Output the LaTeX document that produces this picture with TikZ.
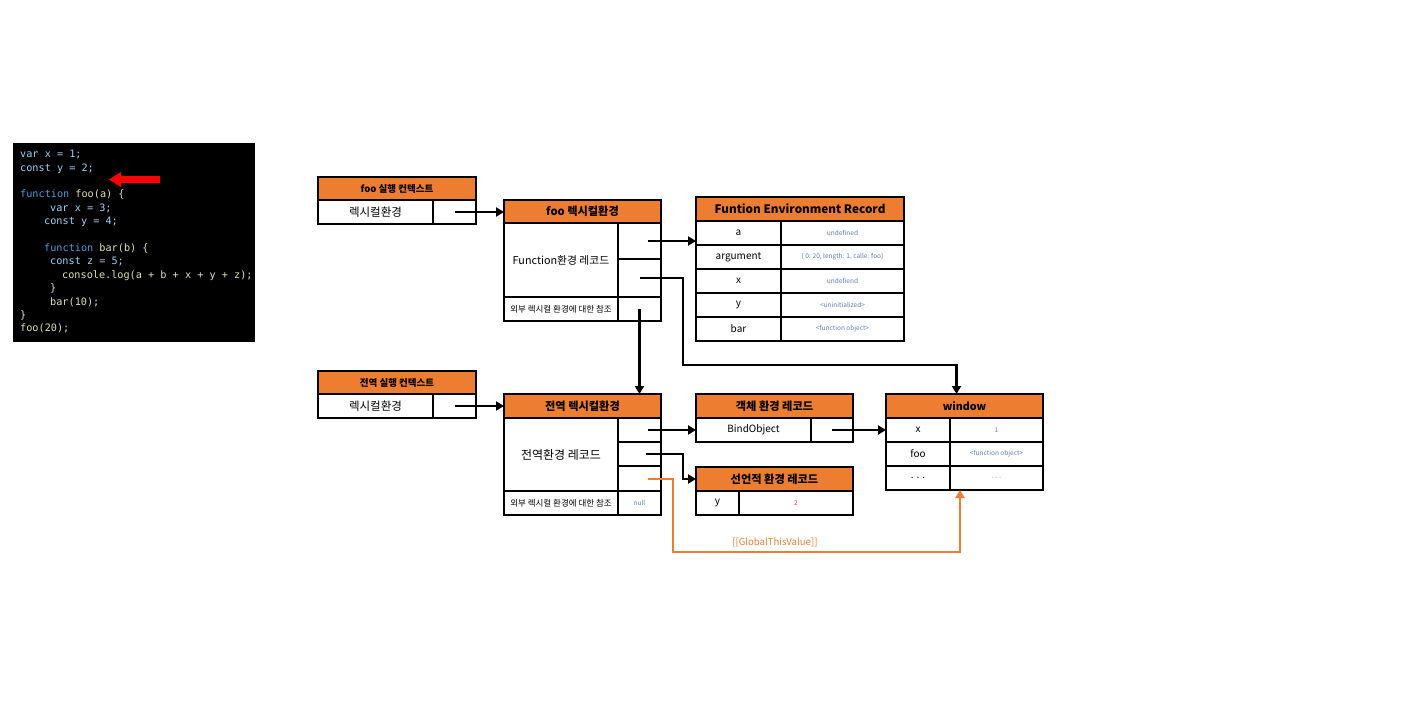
\documentclass[tikz,border=0pt]{standalone}
\usepackage{fontspec}
\setmainfont{Noto Sans CJK KR}
\setmonofont{DejaVu Sans Mono}
\usetikzlibrary{arrows.meta,calc}

\definecolor{hdr}{HTML}{ED7D31}
\definecolor{gtv}{HTML}{ED7D31}
\definecolor{kwblue}{HTML}{4F9BDB}
\definecolor{varblue}{HTML}{9CD2F8}
\definecolor{fnyel}{HTML}{E2E2B4}
\definecolor{valtxt}{HTML}{5A7FAE}
\definecolor{valred}{HTML}{E8404A}

\newcommand\fsz[1]{\fontsize{#1}{#1}\selectfont}

\tikzset{
  wh/.style 2 args={minimum width=#1pt, minimum height=#2pt},
  cell/.style={draw, line width=1.8pt, inner sep=0pt, outer sep=0pt,
    anchor=north west, align=center, text=black, font=\fsz{10}},
  headcell/.style={cell, fill=hdr, font=\fsz{11.2}\bfseries},
  ctxhead/.style={headcell, font=\fsz{9.5}\bfseries},
  val/.style={cell, font=\fsz{6.5}, text=valtxt},
  link/.style={line width=2.2pt, -{Triangle[length=8pt,width=9pt]}},
  gtvlink/.style={line width=2pt, draw=gtv, -{Triangle[length=8pt,width=9pt]}},
  codeline/.style={anchor=west, inner sep=0pt, font=\ttfamily\fsz{10.2},
    text height=7.5pt, text depth=2pt},
}

\begin{document}
\begin{tikzpicture}[x=1pt, y=-1pt]
\useasboundingbox[fill=white] (0,0) rectangle (1418,709);

% ---- source code panel ----
\node[fill=black, inner sep=0pt, outer sep=0pt, anchor=north west, wh={242}{199}] (code) at (13,143) {};
\node[codeline, text=varblue] (l1) at (20,155) {var x = 1;};
\node[codeline, text=varblue] (l2) at (20,168.4) {const y = 2;};
\node[codeline] (l3) at (20,195.2) {\textcolor{kwblue}{function} \textcolor{fnyel}{foo(a) \{}};
\node[codeline, text=varblue] (l4) at (50,208.6) {var x = 3;};
\node[codeline, text=varblue] (l5) at (44,222) {const y = 4;};
\node[codeline] (l6) at (44,248.8) {\textcolor{kwblue}{function} \textcolor{fnyel}{bar(b) \{}};
\node[codeline, text=varblue] (l7) at (50,262.2) {const z = 5;};
\node[codeline, text=fnyel] (l8) at (62,275.6) {console.log(a + b + x + y + z);};
\node[codeline, text=fnyel] (l9) at (50,289) {\}};
\node[codeline, text=fnyel] (l10) at (50,302.4) {bar(10);};
\node[codeline, text=fnyel] (l11) at (20,315.8) {\}};
\node[codeline, text=fnyel] (l12) at (20,329.2) {foo(20);};

% current-line marker
\fill[red] (109,179.5) -- (121,172) -- (121,176) -- (160,176) -- (160,183)
  -- (121,183) -- (121,187) -- cycle;

% ---- foo execution context ----
\node[ctxhead, wh={158}{23}] (fooCtxHead) at (318,177) {foo 실행 컨텍스트};
\node[cell, wh={115}{24}, font=\fsz{11.5}] (fooCtxLex) at (318,200) {렉시컬환경};
\node[cell, wh={43}{24}] (fooCtxRef) at (433,200) {};

% ---- foo lexical environment ----
\node[headcell, wh={157}{23}] (fooLexHead) at (504,200) {foo 렉시컬환경};
\node[cell, wh={114}{74}, font=\fsz{10.8}] (fooLexRec) at (504,223) {Function환경 레코드};
\node[cell, wh={43}{36}] (fooLexR1) at (618,223) {};
\node[cell, wh={43}{38}] (fooLexR2) at (618,259) {};
\node[cell, wh={114}{24}, font=\fsz{8.5}] (fooLexOuter) at (504,297) {외부 렉시컬 환경에 대한 참조};
\node[cell, wh={43}{24}] (fooLexOuterRef) at (618,297) {};

% ---- function environment record ----
\node[headcell, wh={208}{24}, font=\fsz{11.7}\bfseries] (ferHead) at (696,197) {Funtion Environment Record};
\node[cell, wh={85}{24}] (ferA) at (696,221) {a};
\node[val, wh={123}{24}] (ferAv) at (781,221) {undefined};
\node[cell, wh={85}{24}] (ferArg) at (696,245) {argument};
\node[val, wh={123}{24}] (ferArgv) at (781,245) {\{ 0: 20, length: 1, calle: foo\}};
\node[cell, wh={85}{24}] (ferX) at (696,269) {x};
\node[val, wh={123}{24}] (ferXv) at (781,269) {undefiend};
\node[cell, wh={85}{24}] (ferY) at (696,293) {y};
\node[val, wh={123}{24}] (ferYv) at (781,293) {<uninitialized>};
\node[cell, wh={85}{24}] (ferBar) at (696,317) {bar};
\node[val, wh={123}{24}] (ferBarv) at (781,317) {<function object>};

% ---- global execution context ----
\node[ctxhead, wh={158}{23}] (gCtxHead) at (318,371) {전역 실행 컨텍스트};
\node[cell, wh={115}{24}, font=\fsz{11.5}] (gCtxLex) at (318,394) {렉시컬환경};
\node[cell, wh={43}{24}] (gCtxRef) at (433,394) {};

% ---- global lexical environment ----
\node[headcell, wh={157}{24}] (gLexHead) at (504,394) {전역 렉시컬환경};
\node[cell, wh={114}{73}, font=\fsz{12}] (gLexRec) at (504,418) {전역환경 레코드};
\node[cell, wh={43}{24}] (gLexR1) at (618,418) {};
\node[cell, wh={43}{24}] (gLexR2) at (618,442) {};
\node[cell, wh={43}{25}] (gLexR3) at (618,466) {};
\node[cell, wh={114}{24}, font=\fsz{8.5}] (gLexOuter) at (504,491) {외부 렉시컬 환경에 대한 참조};
\node[val, wh={43}{24}] (gLexOuterRef) at (618,491) {null};

% ---- object environment record ----
\node[headcell, wh={157}{24}] (objHead) at (696,394) {객체 환경 레코드};
\node[cell, wh={115}{24}] (objBind) at (696,418) {BindObject};
\node[cell, wh={42}{24}] (objRef) at (811,418) {};

% ---- declarative environment record ----
\node[headcell, wh={157}{24}] (declHead) at (696,467) {선언적 환경 레코드};
\node[cell, wh={43}{24}] (declY) at (696,491) {y};
\node[val, wh={114}{24}, text=valred] (declYv) at (739,491) {2};

% ---- global object ----
\node[headcell, wh={157}{24}, font=\fsz{10.7}\bfseries] (winHead) at (886,394) {window};
\node[cell, wh={64}{24}] (winX) at (886,418) {x};
\node[val, wh={93}{24}] (winXv) at (950,418) {1};
\node[cell, wh={64}{24}] (winFoo) at (886,442) {foo};
\node[val, wh={93}{24}] (winFoov) at (950,442) {<function object>};
\node[cell, wh={64}{24}] (winDots) at (886,466) {. . .};
\node[val, wh={93}{24}, text=varblue!80!black] (winDotsv) at (950,466) {- - -};

% ---- references ----
\draw[link] (fooCtxRef.center) -- (fooCtxRef.center -| fooLexHead.west);
\draw[link] ([xshift=8pt]fooLexR1.center) -- (ferA.west |- fooLexR1.center);
\coordinate (fooBend) at (683,365);
\draw[link] (fooLexR2.center) -| (fooBend) -| ([xshift=-8pt]winHead.north);
\draw[link] (fooLexOuterRef.center) -- (fooLexOuterRef.center |- gLexHead.north);

\draw[link] (gCtxRef.center) -- (gCtxRef.center -| gLexHead.west);
\draw[link] ([xshift=8pt]gLexR1.center) -- (objBind.west |- gLexR1.center);
\coordinate (gBend) at (683,454);
\draw[link] ([xshift=6pt]gLexR2.center) -- (gBend) |- (declHead.west);
\draw[link] (objRef.center) -- (winX.west |- objRef.center);

\coordinate (gtvA) at (673,552);
\coordinate (gtvB) at (960,552);
\draw[gtvlink] ([xshift=8pt]gLexR3.center) -| (gtvA) -- node[pos=0.355, above=4pt, inner sep=0pt, text=gtv, font=\fsz{9.6}] (gtvLabel) {[[GlobalThisValue]]} (gtvB) -- (gtvB |- winDotsv.south);
\end{tikzpicture}
\end{document}
